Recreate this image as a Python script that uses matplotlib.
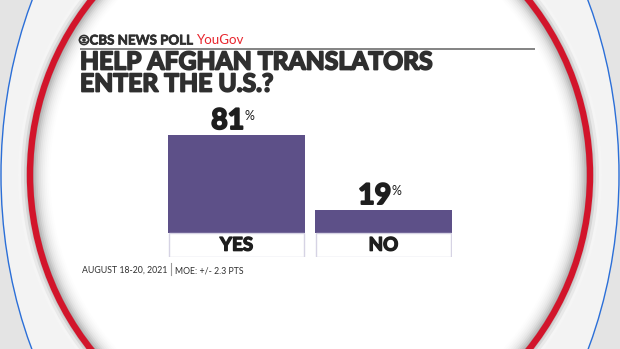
import matplotlib
matplotlib.use('Agg')
import matplotlib.pyplot as plt
import matplotlib.patheffects as pe
from matplotlib.patches import Circle, Ellipse

categories = ['YES', 'NO']
values = [81, 19]
title_lines = ['HELP AFGHAN TRANSLATORS', 'ENTER THE U.S.?']
source_label = 'CBS NEWS POLL'
partner_label = 'YouGov'
footer_date = 'AUGUST 18-20, 2021'
footer_moe = 'MOE: +/- 2.3 PTS'

FONT = ['Lato', 'DejaVu Sans']
PURPLE = '#5d5088'
DARK = '#2f2f2f'
BLACK = '#1e1e1e'


def heavy(color, w):
    return [pe.withStroke(linewidth=w, foreground=color)]


W, H = 620, 349
fig = plt.figure(figsize=(6.2, 3.49), dpi=100)
fig.patch.set_facecolor('#e4e4e4')

bg = fig.add_axes([0, 0, 1, 1], zorder=0)
bg.set_xlim(0, W)
bg.set_ylim(H, 0)
bg.axis('off')

cx, cy = 310, 175
# outer blue ellipse
bg.add_patch(Ellipse((cx, cy), 2 * 309, 2 * 400, facecolor='#f3f3f3',
                     edgecolor='#2b6fd8', lw=1.0))
# silver band outside red ring
for r, c in [(292, '#f5f5f5'), (289, '#e9e9e9'), (286, '#d4d4d4'), (284, '#c4c4c4')]:
    bg.add_patch(Circle((cx, cy), r, facecolor=c, edgecolor='none'))
# inner shading inside red ring
shades = ['#a9a9a9', '#bcbcbc', '#cbcbcb', '#d8d8d8', '#e3e3e3', '#ebebeb',
          '#f1f1f1', '#f6f6f6', '#fafafa', '#fdfdfd']
for i, c in enumerate(shades):
    bg.add_patch(Circle((cx, cy), 278 - i * 1.8, facecolor=c, edgecolor='none'))
bg.add_patch(Circle((cx, cy), 278 - len(shades) * 1.8, facecolor='white', edgecolor='none'))
# red ring
bg.add_patch(Circle((cx, cy), 280, facecolor='none', edgecolor='#d2152b', lw=4.6))

# header
eye_x, eye_y = 84, 40
bg.add_patch(Circle((eye_x, eye_y), 4.6, facecolor='none', edgecolor=DARK, lw=1.1))
bg.add_patch(Ellipse((eye_x, eye_y), 9.2, 5.2, facecolor='none', edgecolor=DARK, lw=0.9))
bg.add_patch(Circle((eye_x, eye_y), 1.8, facecolor=DARK, edgecolor='none'))
hdr = bg.text(89.5, 44.5, source_label, fontsize=9.6, fontweight='bold',
              color=DARK, family=FONT, va='baseline', ha='left',
              path_effects=heavy(DARK, 0.5))
bg.annotate(partner_label, xy=(1, 0), xycoords=hdr, xytext=(1.5, 0),
            textcoords='offset points', fontsize=9.6, color='#e8262e',
            family=FONT, va='bottom', ha='left')
bg.plot([80, 535], [48.5, 48.5], color='#6e6e6e', lw=1.2, solid_capstyle='butt')

# title
for j, line in enumerate(title_lines):
    bg.text(80, 69.5 + j * 22, line, fontsize=17.8, fontweight='bold', color=DARK,
            family=FONT, va='baseline', ha='left', path_effects=heavy(DARK, 1.3))

# footer
bg.text(82, 273, footer_date, fontsize=6.3, color=DARK, family=FONT,
        va='baseline', ha='left')
bg.plot([171, 171], [263, 275], color='#9a9a9a', lw=0.8)
bg.text(175, 273, footer_moe, fontsize=6.3, color=DARK, family=FONT,
        va='baseline', ha='left')

# bar chart axes
k = (233 - 135) / 81.0  # px per unit
ax_left, ax_right = 168, 452
ax_bottom = 257
ax_top = ax_bottom - 120 * k
ax = fig.add_axes([ax_left / W, (H - ax_bottom) / H, (ax_right - ax_left) / W,
                   (ax_bottom - ax_top) / H], zorder=2)
ax.patch.set_alpha(0)
xpos = list(range(len(categories)))
ax.set_xlim(-0.466, 1.466)
ax.set_ylim(-20, 100)
ax.axis('off')

ax.bar(xpos, values, width=0.932, color=PURPLE, edgecolor='none')
ax.bar(xpos, [19.3] * len(xpos), bottom=-19.6, width=0.925, color='white',
       edgecolor='#d6d3e4', lw=1.0)
for i, cat in enumerate(categories):
    ax.text(xpos[i], -10.2, cat, ha='center', va='center', fontsize=13.5,
            fontweight='bold', color=BLACK, family=FONT,
            path_effects=heavy(BLACK, 1.0))
    t = ax.text(xpos[i] - 0.06, values[i] + 4.8, f'{values[i]}', ha='center',
                va='baseline', fontsize=20.5, fontweight='bold', color=BLACK,
                family=FONT, path_effects=heavy(BLACK, 1.4))
    ax.annotate('%', xy=(1, 1), xycoords=t, xytext=(0.2, -1.2),
                textcoords='offset points', ha='left', va='top', fontsize=9,
                color=BLACK, family=FONT)

fig.savefig('out.png', dpi=100, facecolor=fig.get_facecolor())
